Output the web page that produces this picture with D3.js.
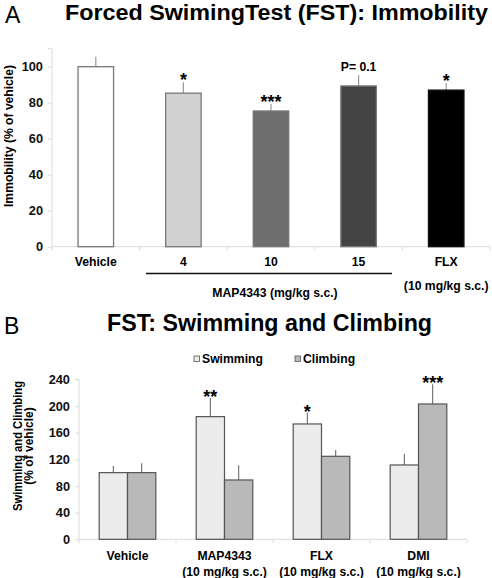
<!DOCTYPE html>
<html><head><meta charset="utf-8">
<script src="https://cdn.jsdelivr.net/npm/d3@7"></script>
<style>body{margin:0;background:#fff}svg{display:block;font-family:"Liberation Sans",Arial,sans-serif}</style>
</head><body>
<svg id="c" width="492" height="578"></svg>
<script>
// Panel A data
const catsA = ["Vehicle","4","10","15","FLX"];
const valsA = [100, 85.3, 75.4, 89.3, 87];
const errA = [105.5, 91.3, 79.3, 95.4, 91];
const sigA = ["", "*", "***", "P= 0.1", "*"];
const colA = ["#ffffff","#d2d2d2","#6e6e6e","#444444","#000000"];
const ticksA = [0,20,40,60,80,100];
// Panel B data
const catsB = ["Vehicle","MAP4343","FLX","DMI"];
const subB = ["", "(10 mg/kg s.c.)", "(10 mg/kg s.c.)", "(10 mg/kg s.c.)"];
const seriesB = ["Swimming","Climbing"];
const swim = [100, 184, 173, 111.5];
const climb = [100, 89, 124.5, 203];
const swimErr = [110, 212, 190, 128];
const climbErr = [114, 111, 134, 232.5];
const sigSwim = ["", "**", "*", ""];
const sigClimb = ["", "", "", "***"];
const colB = ["#ececec","#b9b9b9"];
const ticksB = [0,40,80,120,160,200,240];

const svg = d3.select("#c");
const bold = "bold";
const FS = 12.2;

function styleAxis(ax, top, bottom){
  ax.select(".domain").attr("stroke","#dcdcdc").attr("d",`M-4,${top}H0V${bottom}`);
  ax.selectAll(".tick line").attr("stroke","#dcdcdc");
  ax.selectAll(".tick text").attr("font-size",FS+0.6).attr("font-weight",bold).attr("fill","#111")
    .attr("x",-9).attr("font-family","Liberation Sans, Arial");
}

// ---------- Panel A ----------
svg.append("text").attr("x",5).attr("y",23).attr("font-size",23).text("A");
svg.append("text").attr("x",276.5).attr("y",20).attr("text-anchor","middle")
  .attr("font-size",22).attr("font-weight",bold)
  .attr("textLength",423).attr("lengthAdjust","spacingAndGlyphs")
  .text("Forced SwimingTest (FST): Immobility");

const xA = d3.scaleBand().domain(catsA).range([52,490]).padding(0);
const yA = d3.scaleLinear().domain([0,110]).range([246.7, 48.7]);
const gA = svg.append("g");
const axA = gA.append("g").attr("transform","translate(52,0)")
  .call(d3.axisLeft(yA).tickValues(ticksA).tickSize(4).tickFormat(d3.format("d")));
styleAxis(axA, yA(110), yA(0));
gA.append("line").attr("x1",52).attr("x2",490).attr("y1",yA(0)).attr("y2",yA(0)).attr("stroke","#dcdcdc");
d3.range(catsA.length+1).forEach(i=>{
  const xx = 52+i*xA.step();
  gA.append("line").attr("x1",xx).attr("x2",xx).attr("y1",yA(0)).attr("y2",yA(0)+4).attr("stroke","#dcdcdc");
});
const bwA = 35.5;
catsA.forEach((c,i)=>{
  const cx = xA(c)+xA.bandwidth()/2;
  gA.append("line").attr("x1",cx).attr("x2",cx).attr("y1",yA(errA[i])).attr("y2",yA(valsA[i])).attr("stroke","#999").attr("stroke-width",1.2);
  gA.append("rect").attr("x",cx-bwA/2).attr("y",yA(valsA[i])).attr("width",bwA).attr("height",yA(0)-yA(valsA[i]))
    .attr("fill",colA[i]).attr("stroke",i==4?"#111":"#777").attr("stroke-width",1.3);
  if(sigA[i]){
    const isP = sigA[i].startsWith("P");
    gA.append("text").attr("x",cx).attr("y",isP? yA(errA[i])-4 : yA(errA[i])+4).attr("text-anchor","middle")
      .attr("font-size", isP?FS:18).attr("font-weight",bold).text(sigA[i]);
  }
  gA.append("text").attr("x",cx).attr("y",266).attr("text-anchor","middle").attr("font-size",FS).attr("font-weight",bold).text(c);
});
gA.append("text").attr("x",xA("FLX")+xA.bandwidth()/2).attr("y",290).attr("text-anchor","middle").attr("font-size",FS).attr("font-weight",bold).text("(10 mg/kg s.c.)");
gA.append("line").attr("x1",146).attr("x2",392).attr("y1",273.5).attr("y2",273.5).attr("stroke","#111").attr("stroke-width",1.5);
gA.append("text").attr("x",275).attr("y",296.5).attr("text-anchor","middle").attr("font-size",FS).attr("font-weight",bold).text("MAP4343 (mg/kg s.c.)");
gA.append("text").attr("transform","translate(13,136) rotate(-90)").attr("text-anchor","middle").attr("font-size",12).attr("font-weight",bold)
  .attr("textLength",142).attr("lengthAdjust","spacingAndGlyphs").text("Immobility (% of vehicle)");

// ---------- Panel B ----------
svg.append("text").attr("x",4).attr("y",334).attr("font-size",23).text("B");
svg.append("text").attr("x",269.5).attr("y",331).attr("text-anchor","middle")
  .attr("font-size",23).attr("font-weight",bold)
  .attr("textLength",325).attr("lengthAdjust","spacingAndGlyphs")
  .text("FST: Swimming and Climbing");
const lg = svg.append("g");
[[194,"Swimming"],[295,"Climbing"]].forEach(([x,t],i)=>{
  lg.append("rect").attr("x",x).attr("y",356).attr("width",5.5).attr("height",5.5).attr("fill",colB[i]).attr("stroke","#555").attr("stroke-width",0.8);
  lg.append("text").attr("x",x+8).attr("y",363).attr("font-size",FS).attr("font-weight",bold).text(t);
});

const x0 = d3.scaleBand().domain(catsB).range([79,467]).padding(0);
const x1 = d3.scaleBand().domain(seriesB).range([x0.bandwidth()/2-28.3, x0.bandwidth()/2+28.3]).padding(0);
const yB = d3.scaleLinear().domain([0,240]).range([539.3,379.3]);
const axB = svg.append("g").attr("transform","translate(79,0)")
  .call(d3.axisLeft(yB).tickValues(ticksB).tickSize(4).tickFormat(d3.format("d")));
styleAxis(axB, yB(240), yB(0));
svg.append("line").attr("x1",79).attr("x2",467).attr("y1",yB(0)).attr("y2",yB(0)).attr("stroke","#dcdcdc");
d3.range(catsB.length+1).forEach(i=>{
  const xx = 79+i*x0.step();
  svg.append("line").attr("x1",xx).attr("x2",xx).attr("y1",yB(0)).attr("y2",yB(0)+4).attr("stroke","#dcdcdc");
});
const gB = svg.append("g");
catsB.forEach((c,i)=>{
  const g = gB.append("g").attr("transform",`translate(${x0(c)},0)`);
  const vals = [swim[i], climb[i]], errs=[swimErr[i], climbErr[i]], sigs=[sigSwim[i], sigClimb[i]];
  seriesB.forEach((s,j)=>{
    const cx = x1(s)+x1.bandwidth()/2;
    g.append("line").attr("x1",cx).attr("x2",cx).attr("y1",yB(errs[j])).attr("y2",yB(vals[j])).attr("stroke","#777").attr("stroke-width",1.2);
    g.append("rect").attr("x",x1(s)).attr("y",yB(vals[j])).attr("width",x1.bandwidth()).attr("height",yB(0)-yB(vals[j]))
      .attr("fill",colB[j]).attr("stroke","#555").attr("stroke-width",1.2);
    if(sigs[j]) g.append("text").attr("x",cx).attr("y",yB(errs[j])+5).attr("text-anchor","middle").attr("font-size",18).attr("font-weight",bold).text(sigs[j]);
  });
  const cx = x0.bandwidth()/2;
  g.append("text").attr("x",cx).attr("y",559.5).attr("text-anchor","middle").attr("font-size",FS).attr("font-weight",bold).text(c);
  if(subB[i]) g.append("text").attr("x",cx).attr("y",576).attr("text-anchor","middle").attr("font-size",FS).attr("font-weight",bold).text(subB[i]);
});
const yl = svg.append("text").attr("transform","translate(21.5,446) rotate(-90)").attr("text-anchor","middle").attr("font-size",12).attr("font-weight",bold);
yl.append("tspan").attr("x",0).attr("dy",0).attr("textLength",130).attr("lengthAdjust","spacingAndGlyphs").text("Swimming and Climbing");
yl.append("tspan").attr("x",0).attr("dy",11.5).text("(% of vehicle)");
</script>
</body></html>
